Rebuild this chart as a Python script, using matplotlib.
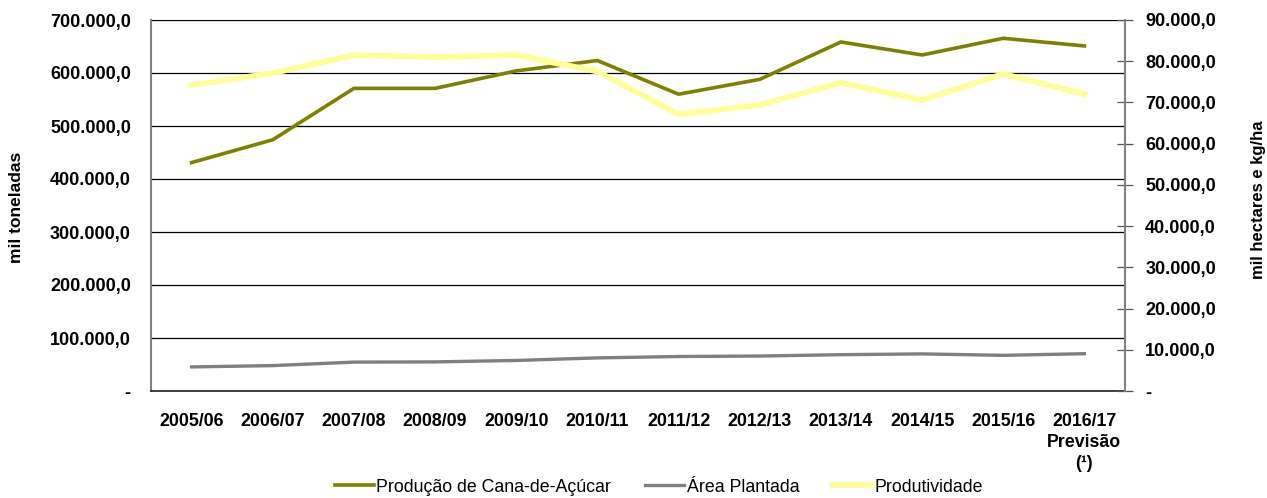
import matplotlib
matplotlib.use("Agg")
import matplotlib.pyplot as plt
from matplotlib.ticker import FuncFormatter, MultipleLocator

plt.rcParams["font.family"] = ["Liberation Sans", "DejaVu Sans"]

# safras
safras = ["2005/06", "2006/07", "2007/08", "2008/09", "2009/10", "2010/11",
          "2011/12", "2012/13", "2013/14", "2014/15", "2015/16",
          "2016/17\nPrevisão\n(¹)"]
# mil toneladas
producao = [431000, 474000, 571000, 571000, 604000, 623500,
            560000, 588000, 658500, 634000, 665500, 651000]
# mil hectares
area = [5840, 6160, 7010, 7060, 7410, 8030, 8370, 8480, 8810, 9000, 8650, 9050]
# kg/ha
produtividade = [74200, 77100, 81500, 81000, 81500, 77500,
                 67100, 69400, 74800, 70600, 76900, 72000]


def br(v, pos=None):
    if v == 0:
        return "-"
    s = f"{v:,.1f}"
    return s.replace(",", "X").replace(".", ",").replace("X", ".")


fig = plt.figure(figsize=(12.67, 4.98), dpi=100)
ax = fig.add_axes([151 / 1267, 1 - 391 / 498, (1125 - 151) / 1267, (391 - 20) / 498])
ax2 = ax.twinx()

x = list(range(len(safras)))
l1, = ax.plot(x, producao, color="#808000", lw=2.6, label="Produção de Cana-de-Açúcar")
l2, = ax2.plot(x, area, color="#808080", lw=2.4, label="Área Plantada")
l3, = ax2.plot(x, produtividade, color="#FFFF99", lw=4.2, label="Produtividade")

ax.set_xlim(-0.5, len(safras) - 0.5)
ax.set_ylim(0, 700000)
ax2.set_ylim(0, 90000)
ax.yaxis.set_major_locator(MultipleLocator(100000))
ax2.yaxis.set_major_locator(MultipleLocator(10000))
ax.yaxis.set_major_formatter(FuncFormatter(br))
ax2.yaxis.set_major_formatter(FuncFormatter(br))

ax.grid(axis="y", color="black", lw=0.9)
ax.set_axisbelow(True)

ax.set_xticks(x)
ax.set_xticklabels(safras, fontweight="bold", fontsize=12.8, linespacing=1.3)
ax.tick_params(axis="x", length=0, pad=16)
ax.tick_params(axis="y", length=0, pad=14.5, labelsize=13)
ax2.tick_params(axis="y", direction="inout", length=11, width=0.9, color="#555555",
                pad=9, labelsize=13)
for lab in ax.get_yticklabels() + ax2.get_yticklabels():
    lab.set_fontweight("bold")

for s in ["top", "right"]:
    ax.spines[s].set_visible(False)
for s in ["top", "left", "bottom"]:
    ax2.spines[s].set_visible(False)
ax.spines["left"].set_color("#808080")
ax.spines["left"].set_linewidth(1.5)
ax.spines["bottom"].set_color("#222222")
ax.spines["bottom"].set_linewidth(1.2)
ax2.spines["right"].set_color("#808080")
ax2.spines["right"].set_linewidth(1.5)

fig.text(17 / 1267, 1 - 207 / 498, "mil toneladas", rotation=90, fontweight="bold",
         fontsize=12.5, ha="center", va="center")
fig.text(1258 / 1267, 1 - 200 / 498, "mil hectares e kg/ha", rotation=90, fontweight="bold",
         fontsize=12, ha="center", va="center")

fig.legend(handles=[l1, l2, l3], loc="center", bbox_to_anchor=(659 / 1267, 1 - 487 / 498),
           ncol=3, frameon=False, fontsize=12.8, handlelength=2.2, handletextpad=0.15,
           columnspacing=1.9)

fig.savefig("out.png", dpi=100)
